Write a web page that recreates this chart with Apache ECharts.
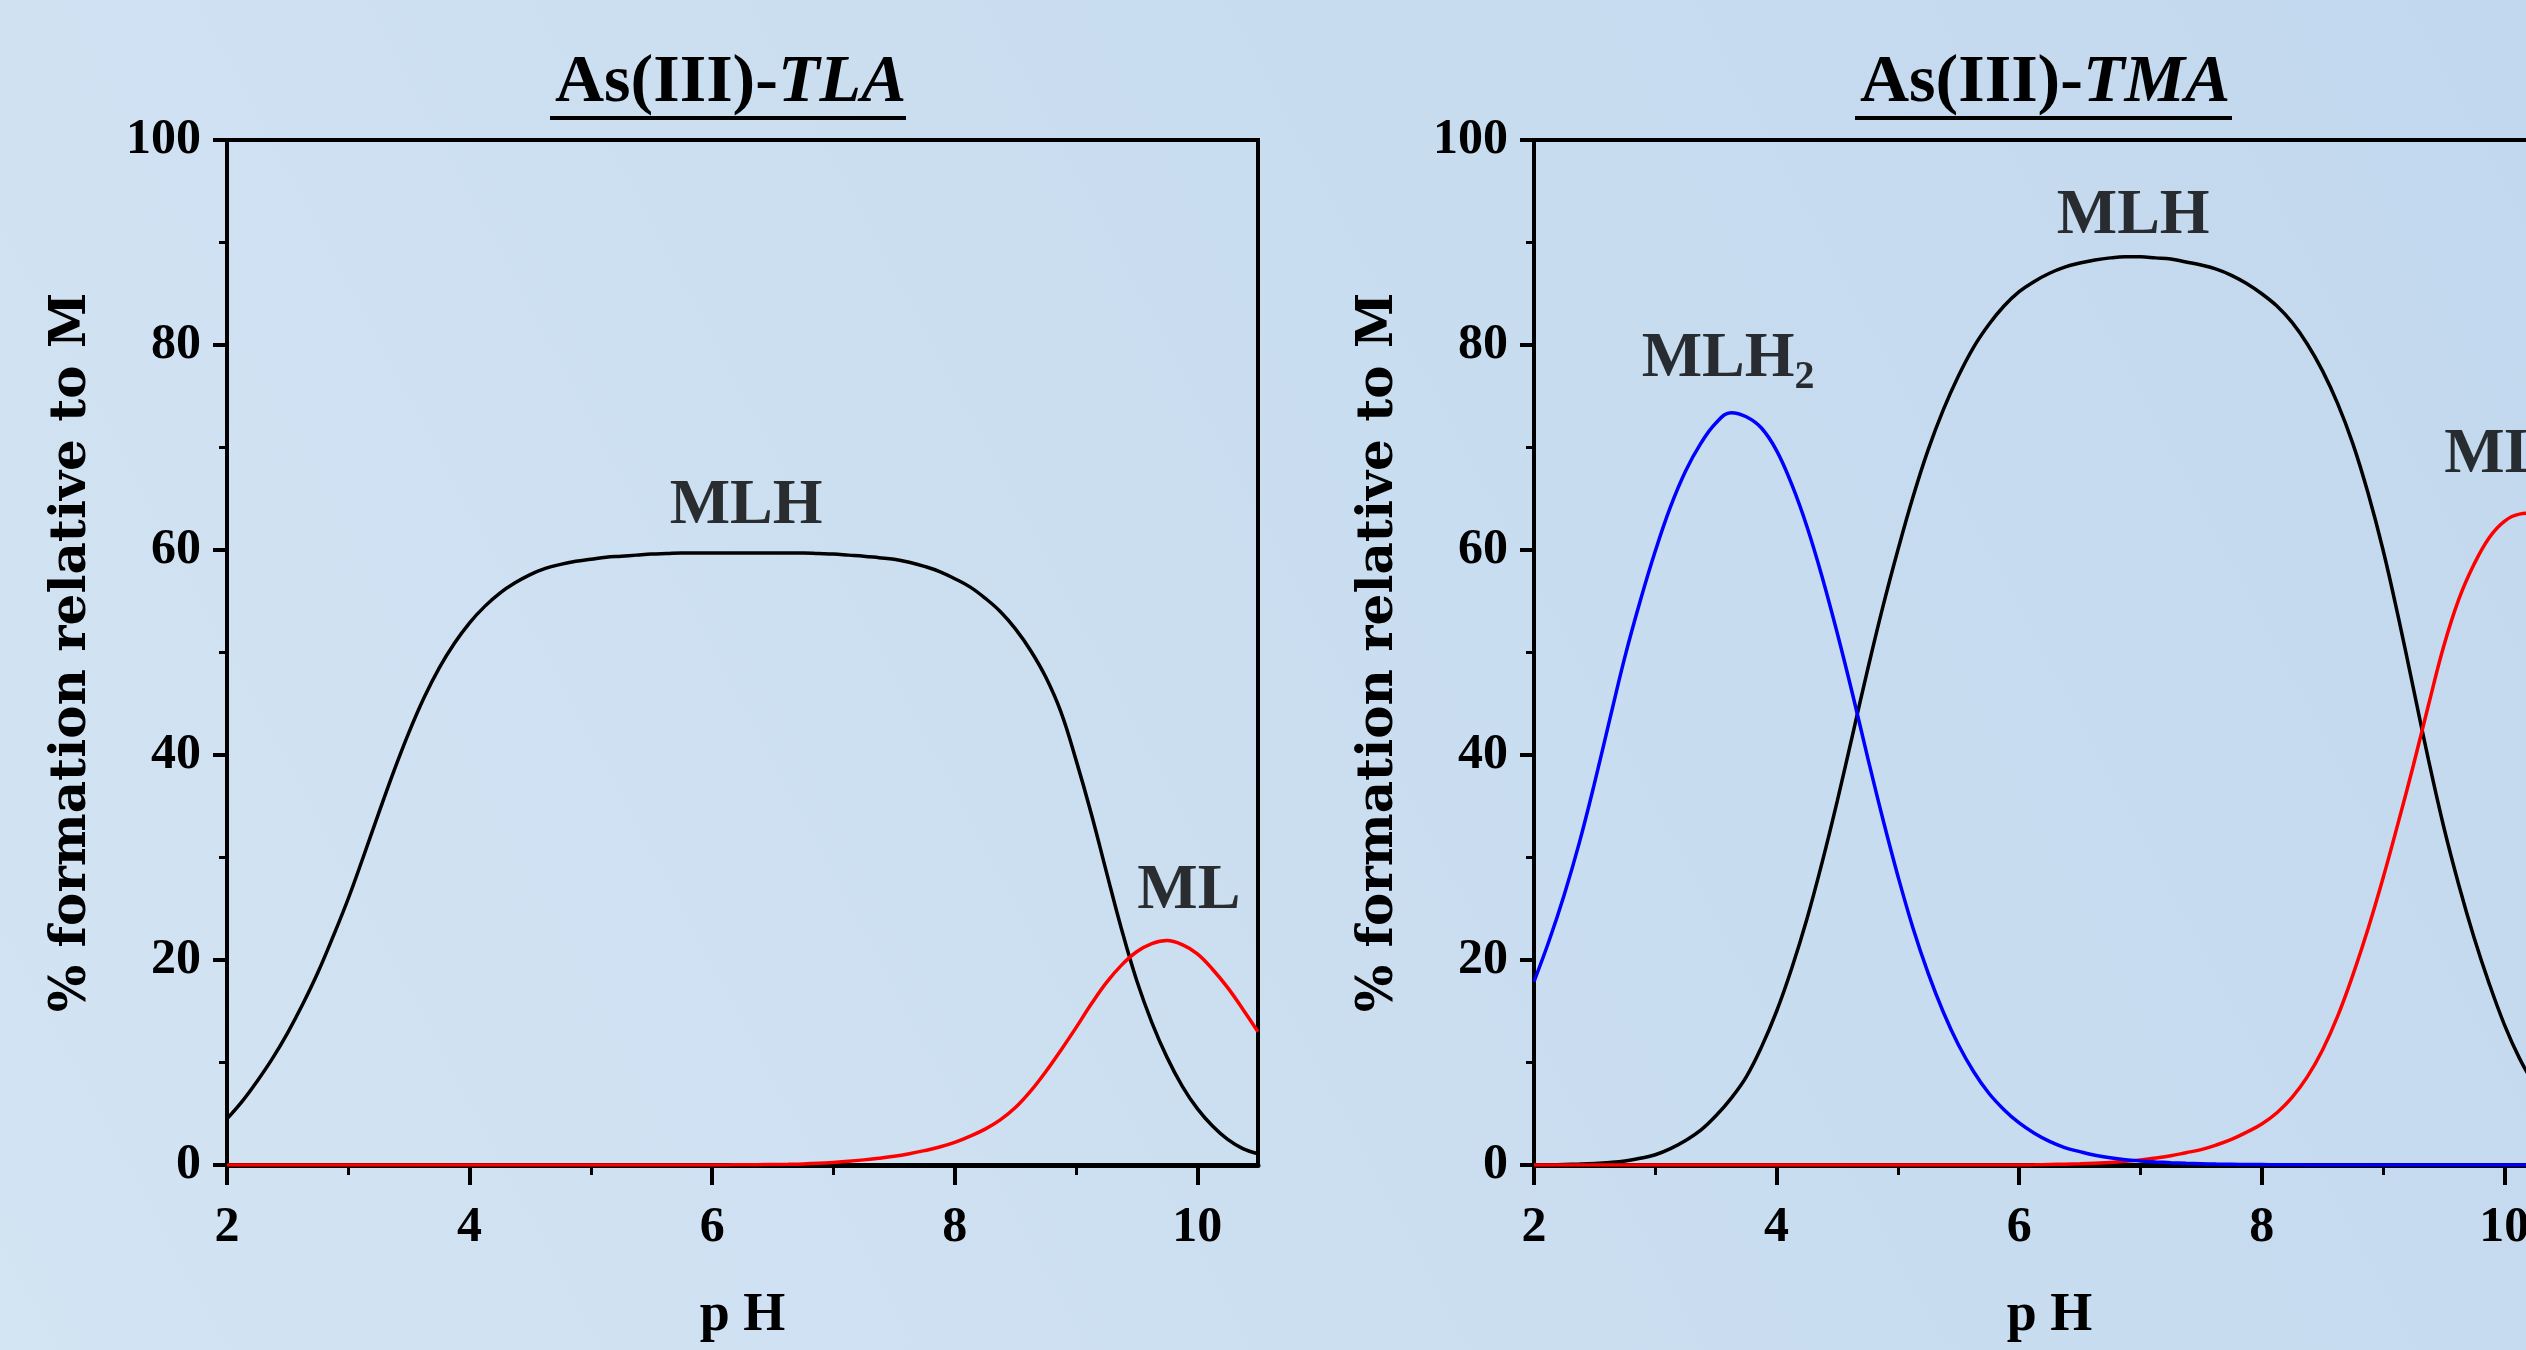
<!DOCTYPE html>
<html>
<head>
<meta charset="utf-8">
<script src="https://cdn.jsdelivr.net/npm/echarts@6/dist/echarts.min.js"></script>
<style>
  html, body { margin: 0; padding: 0; }
  #main { width: 2526px; height: 1350px; }
</style>
</head>
<body>
<div id="main"></div>
<script>
// pH grid shared by all curves (one row per pH unit)
var pH = [
  2.0, 2.125, 2.25, 2.375, 2.5, 2.625, 2.75, 2.875,
  3.0, 3.125, 3.25, 3.375, 3.5, 3.625, 3.75, 3.875,
  4.0, 4.125, 4.25, 4.375, 4.5, 4.625, 4.75, 4.875,
  5.0, 5.125, 5.25, 5.375, 5.5, 5.625, 5.75, 5.875,
  6.0, 6.125, 6.25, 6.375, 6.5, 6.625, 6.75, 6.875,
  7.0, 7.125, 7.25, 7.375, 7.5, 7.625, 7.75, 7.875,
  8.0, 8.125, 8.25, 8.375, 8.5, 8.625, 8.75, 8.875,
  9.0, 9.125, 9.25, 9.375, 9.5, 9.625, 9.75, 9.875,
  10.0, 10.125, 10.25, 10.375, 10.5];

// As(III)-TLA
var tlaMLH = [
  4.5, 6.2, 8.2, 10.4, 12.9, 15.7, 18.8, 22.3,
  26.0, 30.1, 34.3, 38.4, 42.2, 45.6, 48.5, 50.9,
  52.9, 54.5, 55.8, 56.8, 57.6, 58.2, 58.6, 58.9,
  59.1, 59.3, 59.4, 59.5, 59.6, 59.65, 59.7, 59.7,
  59.7, 59.7, 59.7, 59.7, 59.7, 59.7, 59.7, 59.65,
  59.6, 59.5, 59.4, 59.25, 59.1, 58.8, 58.4, 57.9,
  57.2, 56.4, 55.3, 54.0, 52.3, 50.2, 47.6, 44.2,
  39.5, 34.3, 28.6, 23.0, 18.0, 13.9, 10.5, 7.7,
  5.5, 3.8, 2.5, 1.6, 1.1];
var tlaML = [
  0, 0, 0, 0, 0, 0, 0, 0,
  0, 0, 0, 0, 0, 0, 0, 0,
  0, 0, 0, 0, 0, 0, 0, 0,
  0, 0, 0, 0, 0, 0, 0, 0,
  0, 0.01, 0.02, 0.03, 0.05, 0.07, 0.1, 0.16,
  0.25, 0.36, 0.5, 0.66, 0.85, 1.1, 1.4, 1.75,
  2.2, 2.8, 3.5, 4.4, 5.6, 7.2, 9.1, 11.2,
  13.4, 15.7, 17.8, 19.5, 20.8, 21.6, 21.9, 21.5,
  20.6, 19.1, 17.3, 15.2, 13.0];

// As(III)-TMA
var tmaMLH2 = [
  17.9, 21.9, 26.4, 31.5, 37.3, 43.5, 49.6, 55.0,
  59.9, 64.2, 67.7, 70.4, 72.4, 73.4, 73.0, 71.9,
  69.7, 66.4, 62.3, 57.4, 51.9, 46.0, 39.8, 33.8,
  28.2, 23.1, 18.7, 14.9, 11.7, 9.1, 7.0, 5.4,
  4.1, 3.1, 2.3, 1.7, 1.3, 0.95, 0.7, 0.52,
  0.4, 0.3, 0.22, 0.16, 0.12, 0.09, 0.07, 0.05,
  0.04, 0.03, 0.02, 0.01, 0, 0, 0, 0,
  0, 0, 0, 0, 0, 0, 0, 0,
  0, 0, 0, 0, 0];
var tmaMLH = [
  0.0, 0.02, 0.05, 0.09, 0.15, 0.25, 0.4, 0.65,
  1.0, 1.6, 2.4, 3.4, 4.8, 6.5, 8.6, 11.5,
  15.0, 19.2, 24.0, 29.5, 35.5, 41.9, 48.3, 54.4,
  60.0, 65.2, 69.8, 73.7, 77.0, 79.8, 82.0, 83.8,
  85.2, 86.2, 87.0, 87.6, 88.0, 88.3, 88.5, 88.6,
  88.6, 88.5, 88.4, 88.1, 87.8, 87.4, 86.8, 86.0,
  85.0, 83.8, 82.2, 80.1, 77.5, 74.3, 70.4, 65.6,
  60.0, 53.5, 46.5, 39.5, 33.0, 27.3, 22.2, 17.7,
  13.7, 10.4, 7.8, 5.7, 4.1];
var tmaML = [
  0, 0, 0, 0, 0, 0, 0, 0,
  0, 0, 0, 0, 0, 0, 0, 0,
  0, 0, 0, 0, 0, 0, 0, 0,
  0, 0, 0, 0, 0, 0, 0, 0,
  0, 0.02, 0.05, 0.08, 0.12, 0.18, 0.25, 0.36,
  0.5, 0.68, 0.9, 1.2, 1.5, 1.95, 2.5, 3.2,
  4.0, 5.1, 6.6, 8.6, 11.2, 14.5, 18.5, 23.0,
  28.0, 33.4, 39.0, 44.9, 50.6, 55.2, 58.6, 61.2,
  62.8, 63.5, 63.6, 63.2, 62.5];

var xMajor = [2, 4, 6, 8, 10];
var xMinor = [3, 5, 7, 9];

// species labels: [text, pH, %]
var tlaLabels = [['MLH', 6.28, 64.2], ['ML', 9.93, 26.7]];
var tmaLabels = [['MLH2', 3.6, 78.6], ['MLH', 6.94, 92.5], ['ML', 9.93, 69.2]];

var SERIF = 'Liberation Serif';
var WIDE = 'DejaVu Serif';

function pairs(ys) {
  return pH.map(function (x, i) { return [x, ys[i]]; });
}

var chart = echarts.init(document.getElementById('main'));

var grids = [];
var xAxes = [];
var yAxes = [];
var series = [];

function addPanel(idx, left) {
  grids.push({ left: left, top: 140, width: 1031, height: 1025, outerBoundsMode: 'none',
    show: true, borderColor: '#000', borderWidth: 4, backgroundColor: 'transparent' });
  xAxes.push({
    gridIndex: idx, type: 'value', min: 2, max: 10.5, interval: 2,
    name: 'p H', nameLocation: 'middle', nameGap: 124,
    nameTextStyle: { fontFamily: SERIF, fontWeight: 'bold', fontSize: 54, color: '#000' },
    axisLine: { lineStyle: { color: '#000', width: 5 } },
    axisTick: { customValues: xMajor, length: 20, lineStyle: { color: '#000', width: 4 } },
    axisLabel: { customValues: xMajor, margin: 38, fontFamily: SERIF, fontWeight: 'bold', fontSize: 50, color: '#000' },
    splitLine: { show: false }
  });
  yAxes.push({
    gridIndex: idx, type: 'value', min: 0, max: 100, interval: 20,
    name: '% formation relative to M', nameLocation: 'middle', nameGap: 130,
    nameTextStyle: { fontFamily: WIDE, fontWeight: 'bold', fontSize: 50, color: '#000' },
    axisLine: { lineStyle: { color: '#000', width: 4 } },
    axisTick: { length: 14, lineStyle: { color: '#000', width: 4 } },
    minorTick: { show: true, splitNumber: 2, length: 8, lineStyle: { color: '#000', width: 3 } },
    axisLabel: { margin: 26, fontFamily: SERIF, fontWeight: 'bold', fontSize: 50, color: '#000' },
    splitLine: { show: false }
  });
}

// extra hidden grid on top of each panel, only to draw the odd-pH minor ticks
function addMinorX(idx, left) {
  grids.push({ left: left, top: 140, width: 1031, height: 1025, outerBoundsMode: 'none' });
  xAxes.push({
    gridIndex: idx, type: 'value', min: 2, max: 10.5,
    axisLine: { show: false },
    axisTick: { customValues: xMinor, length: 10, lineStyle: { color: '#000', width: 3 } },
    axisLabel: { show: false },
    splitLine: { show: false }
  });
  yAxes.push({ gridIndex: idx, type: 'value', min: 0, max: 100, show: false });
}

addPanel(0, 227);
addPanel(1, 1534);
addMinorX(2, 227);
addMinorX(3, 1534);

function curve(idx, data, color) {
  return {
    type: 'line', xAxisIndex: idx, yAxisIndex: idx, data: pairs(data),
    smooth: 0.4, showSymbol: false, silent: true,
    lineStyle: { color: color, width: 3.5 }
  };
}

function labels(idx, list) {
  return {
    type: 'scatter', xAxisIndex: idx, yAxisIndex: idx, symbolSize: 0, silent: true, z: 5,
    data: list.map(function (l) { return { name: l[0], value: [l[1], l[2]] }; }),
    label: {
      show: true, position: 'inside', color: '#000', textBorderWidth: 0,
      formatter: function (p) {
        return p.name === 'MLH2' ? '{m|MLH}{s|2}' : '{m|' + p.name + '}';
      },
      rich: {
        m: { fontFamily: SERIF, fontWeight: 'bold', fontSize: 64, color: '#000', textBorderWidth: 0 },
        s: { fontFamily: SERIF, fontWeight: 'bold', fontSize: 40, color: '#000', textBorderWidth: 0, padding: [36, 0, 0, 0] }
      }
    }
  };
}

series.push(curve(0, tlaMLH, '#000000'));
series.push(curve(0, tlaML, '#ff0000'));
series.push(labels(0, tlaLabels));
series.push(curve(1, tmaMLH, '#000000'));
series.push(curve(1, tmaML, '#ff0000'));
series.push(curve(1, tmaMLH2, '#0000ff'));
series.push(labels(1, tmaLabels));

var titleRich = {
  n: { fontFamily: SERIF, fontWeight: 'bold', fontSize: 68, color: '#000' },
  i: { fontFamily: SERIF, fontWeight: 'bold', fontStyle: 'italic', fontSize: 68, color: '#000' }
};

chart.setOption({
  animation: false,
  backgroundColor: {
    type: 'linear', x: 0, y: 1, x2: 1, y2: 0,
    colorStops: [{ offset: 0, color: '#d3e4f3' }, { offset: 1, color: '#c2d8ee' }]
  },
  title: [
    { text: '{n|As(III)-}{i|TLA}', left: 550, top: 44, textStyle: { rich: titleRich } },
    { text: '{n|As(III)-}{i|TMA}', left: 1855, top: 44, textStyle: { rich: titleRich } }
  ],
  graphic: [
    { type: 'line', shape: { x1: 550, y1: 118, x2: 906, y2: 118 }, style: { stroke: '#000', lineWidth: 4 } },
    { type: 'line', shape: { x1: 1855, y1: 118, x2: 2232, y2: 118 }, style: { stroke: '#000', lineWidth: 4 } }
  ],
  grid: grids,
  xAxis: xAxes,
  yAxis: yAxes,
  series: series
});
</script>
</body>
</html>
